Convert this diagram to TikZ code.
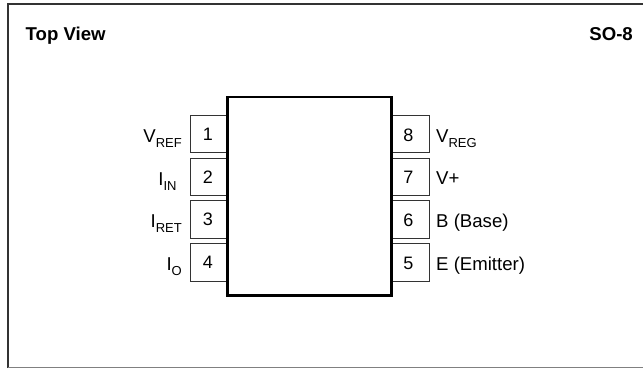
\documentclass[tikz,border=0pt]{standalone}
\usepackage{fontspec}
\setmainfont{Liberation Sans}
\tikzset{
  x=1pt,y=-1pt,
  frameline/.style={line width=1.6pt,draw=black!80},
  pkg/.style={draw=black,line width=2.2pt,fill=white},
  pinbox/.style={draw=black!80,line width=0.9pt,fill=white},
  pinnum/.style={font=\fontsize{18}{20}\selectfont,inner sep=0pt},
  lab/.style={font=\fontsize{18.6}{20}\selectfont,inner sep=0pt},
  ttl/.style={font=\fontsize{18.6}{20}\selectfont\bfseries,inner sep=0pt}
}
\newcommand{\pinsub}[2]{#1\raisebox{-5pt}{\fontsize{13}{15}\selectfont #2}}
\begin{document}
\begin{tikzpicture}
\useasboundingbox (0,0) rectangle (643,368);
\draw[frameline] (8,368) -- (8,4) -- (643,4);
\draw[frameline,draw=black!50] (8,367.5) -- (643,367.5);
\node[ttl,anchor=base west] (title) at (25.5,40) {Top View};
\node[ttl,anchor=base east] (pkgname) at (633,40) {SO-8};
% pins
\foreach \n/\a/\b/\c in {1/115/152.7/134,2/158/195.5/177,3/200.7/238/219.5,4/243.5/281/262.5}{
  \draw[pinbox] (190,\a) rectangle (228,\b);
  \node[pinnum] (p\n) at (208,\c) {\n};
}
\foreach \n/\a/\b/\c in {8/115/152.7/135,7/158/195.5/177.5,6/200.7/238/220.5,5/243.5/281/263.5}{
  \draw[pinbox] (391,\a) rectangle (429,\b);
  \node[pinnum] (p\n) at (408.5,\c) {\n};
}
\draw[pkg] (227.5,97) rectangle (391.5,295.5);
% left labels
\node[lab,anchor=base east] (l1) at (182,142) {\pinsub{V}{REF}};
\node[lab,anchor=base east] (l2) at (176.7,185.5) {\pinsub{I}{IN}};
\node[lab,anchor=base east] (l3) at (182,227.5) {\pinsub{I}{RET}};
\node[lab,anchor=base east] (l4) at (182,270.5) {\pinsub{I}{O}};
% right labels
\node[lab,anchor=base west] (r8) at (436,142) {\pinsub{V}{REG}};
\node[lab,anchor=base west] (r7) at (436,184) {V+};
\node[lab,anchor=base west] (r6) at (436,227) {B (Base)};
\node[lab,anchor=base west] (r5) at (436,270) {E (Emitter)};
\end{tikzpicture}
\end{document}
